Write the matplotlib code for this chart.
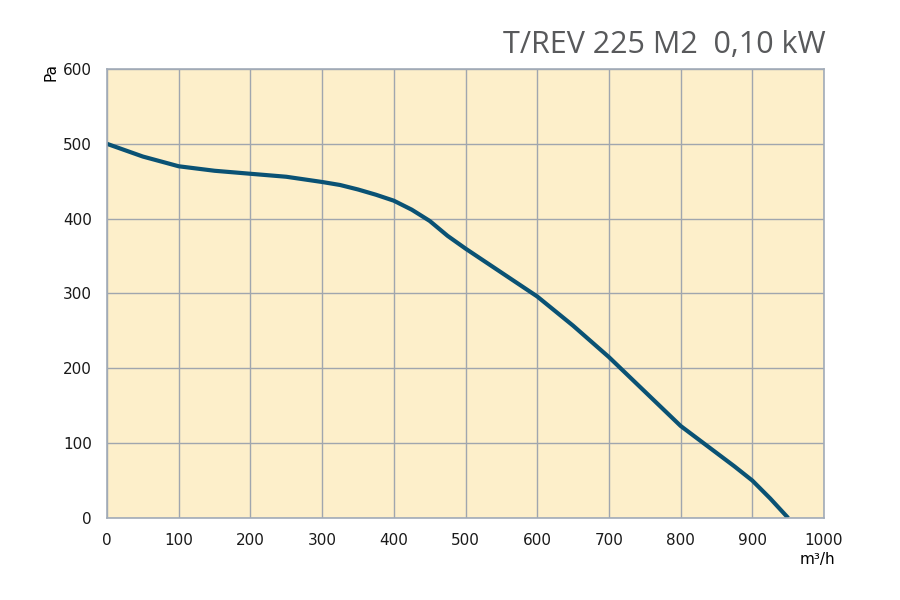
import numpy as np
import matplotlib.pyplot as plt

# fan curve (airflow m3/h, pressure Pa)
flow = [0, 50, 100, 150, 200, 250, 300, 325, 350, 375, 400, 425, 450, 475, 500,
        550, 600, 650, 700, 750, 775, 800, 825, 850, 875, 900, 925, 950]
pressure = [500, 483, 470, 464, 460, 456, 449, 445, 439, 432, 424, 412, 397, 377, 360,
            328, 296, 257, 215, 169, 146, 123, 105, 87, 69, 50, 26, 0]

x_ticks = [0, 100, 200, 300, 400, 500, 600, 700, 800, 900, 1000]
y_ticks = [0, 100, 200, 300, 400, 500, 600]

fig = plt.figure(figsize=(9, 6), dpi=100)
ax = fig.add_axes([0.1189, 0.1367, 0.7967, 0.7483])
ax.set_facecolor('#fdefca')

ax.plot(flow, pressure, color='#0a5274', linewidth=3.0,
        solid_capstyle='butt', solid_joinstyle='round')

ax.set_xlim(0, 1000)
ax.set_ylim(0, 600)
ax.set_xticks(x_ticks)
ax.set_yticks(y_ticks)
ax.grid(True, color='#a0a6ae', linewidth=1.0)
ax.set_axisbelow(True)
ax.tick_params(length=0, labelsize=11, pad=11, colors='#1a1a1a')
for s in ax.spines.values():
    s.set_color('#a2acb8')
    s.set_linewidth(1.2)

fig.text(0.1189 - 0.062, 0.88, 'Pa', rotation=90, ha='center', va='center', fontsize=11)
fig.text(0.908, 0.067, 'm³/h', ha='center', va='center', fontsize=11)
fig.text(0.9175, 0.925, 'T/REV 225 M2  0,10 kW', ha='right', va='center',
         fontsize=22, family='Open Sans', color='#58595b')

fig.savefig('out.png', dpi=100)
